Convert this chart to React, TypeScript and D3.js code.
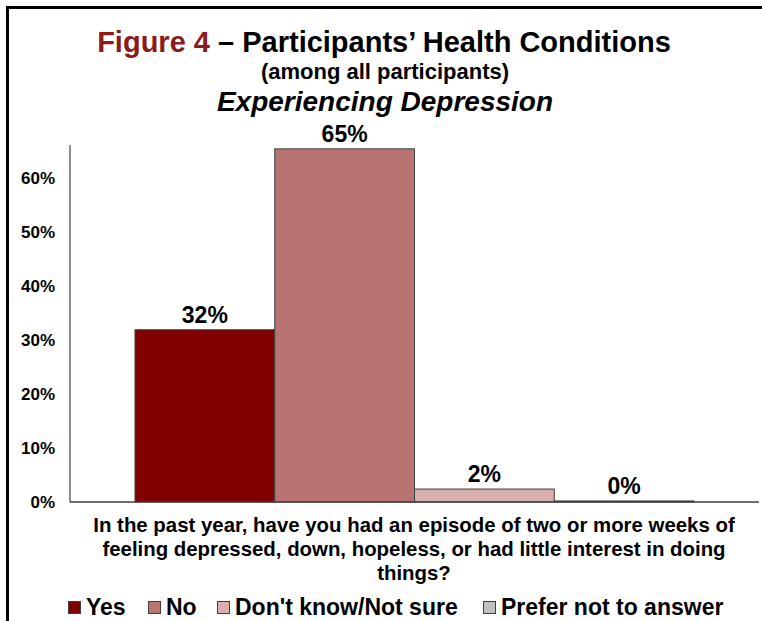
import React from "react";
import * as d3 from "d3";

const categories = ["Yes", "No", "Don't know/Not sure", "Prefer not to answer"];
const values = [0.319, 0.654, 0.024, 0.002];
const valueLabels = ["32%", "65%", "2%", "0%"];
const colors = ["#800000", "#b87472", "#dbaeae", "#c0c0c0"];
const yTicks = [0, 0.1, 0.2, 0.3, 0.4, 0.5, 0.6];
const questionLines = [
  "In the past year, have you had an episode of two or more weeks of",
  "feeling depressed, down, hopeless, or had little interest in doing",
  "things?",
];
const legendX = [68, 148, 217, 483];

const W = 762;
const H = 621;
const FONT = "'Liberation Sans', Arial, Helvetica, sans-serif";

export default function App() {
  const plotLeft = 70;
  const plotRight = 759;
  const baseY = 502;
  const x = d3
    .scaleBand<string>()
    .domain(categories)
    .range([plotLeft, plotRight])
    .paddingInner(0)
    .paddingOuter(0.465);
  const y = d3.scaleLinear().domain([0, 0.6]).range([baseY, 178]);
  const fmt = d3.format(".0%");

  return (
    <svg
      width={W}
      height={H}
      style={{ position: "absolute", left: 0, top: 0, background: "#fff" }}
      fontFamily={FONT}
    >
      <rect x={0} y={0} width={W} height={H} fill="#fff" />
      {/* frame */}
      <path d={`M7.5,${H + 5} V7.5 H${W + 5}`} fill="none" stroke="#000" strokeWidth={3} />

      {/* titles */}
      <text x={384} y={52} textAnchor="middle" fontSize={29} fontWeight="bold">
        <tspan fill="#8b1a1a">Figure 4</tspan>
        <tspan fill="#000"> – Participants’ Health Conditions</tspan>
      </text>
      <text x={385} y={79} textAnchor="middle" fontSize={22} fontWeight="bold" fill="#000">
        (among all participants)
      </text>
      <text
        x={385}
        y={111}
        textAnchor="middle"
        fontSize={28}
        fontWeight="bold"
        fontStyle="italic"
        fill="#000"
      >
        Experiencing Depression
      </text>

      {/* y tick labels */}
      {yTicks.map((t) => (
        <text
          key={t}
          x={55}
          y={y(t)}
          dy="0.35em"
          textAnchor="end"
          fontSize={17}
          fontWeight="bold"
          fill="#000"
        >
          {fmt(t)}
        </text>
      ))}

      {/* bars */}
      {categories.map((c, i) => (
        <rect
          key={c}
          x={x(c)}
          y={y(values[i])}
          width={x.bandwidth()}
          height={baseY - y(values[i])}
          fill={colors[i]}
          stroke="#404040"
          strokeWidth={1}
        />
      ))}

      {/* axes */}
      <line x1={plotLeft} x2={plotLeft} y1={y(0.661)} y2={baseY} stroke="#404040" strokeWidth={1.2} />
      <line x1={plotLeft} x2={plotRight} y1={baseY} y2={baseY} stroke="#404040" strokeWidth={1.5} />

      {/* value labels */}
      {categories.map((c, i) => (
        <text
          key={c}
          x={(x(c) as number) + x.bandwidth() / 2}
          y={y(values[i]) - 7}
          textAnchor="middle"
          fontSize={23}
          fontWeight="bold"
          fill="#000"
        >
          {valueLabels[i]}
        </text>
      ))}

      {/* question */}
      {questionLines.map((l, i) => (
        <text
          key={i}
          x={414}
          y={532 + i * 24}
          textAnchor="middle"
          fontSize={20.4}
          fontWeight="bold"
          fill="#000"
        >
          {l}
        </text>
      ))}

      {/* legend */}
      {categories.map((c, i) => (
        <g key={c} transform={`translate(${legendX[i]},601)`}>
          <rect x={0.5} y={0.5} width={12} height={12} fill={colors[i]} stroke="#404040" strokeWidth={1} />
          <text x={18} y={13.5} fontSize={23} fontWeight="bold" fill="#000">
            {c}
          </text>
        </g>
      ))}
    </svg>
  );
}
